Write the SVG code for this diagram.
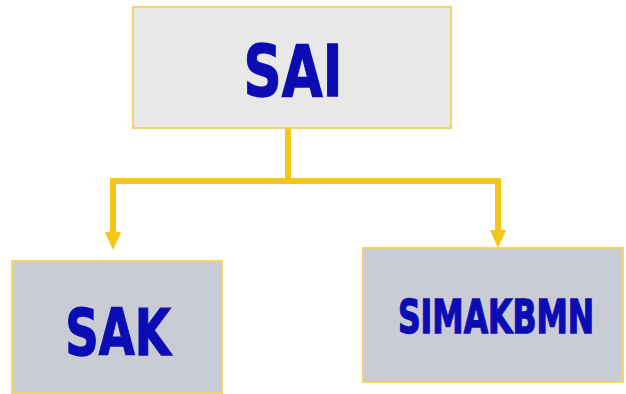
<svg xmlns="http://www.w3.org/2000/svg" width="626" height="394" viewBox="0 0 626 394">
<style>
.box{stroke:#f2d56a;stroke-width:2}
.top{fill:#e8e8e8}
.sub{fill:#c9ccd4}
.lbl{font-family:"DejaVu Sans","Liberation Sans",sans-serif;font-weight:bold;fill:#0c0cb4;stroke:#0c0cb4;stroke-width:1;text-anchor:middle}
.con{fill:none;stroke:#f5c518;stroke-width:6;stroke-linejoin:miter}
</style>
<defs>
<marker id="ah" markerUnits="userSpaceOnUse" markerWidth="18" markerHeight="22" refX="0" refY="9" orient="auto" viewBox="0 0 20 18">
<path d="M0,0 L20,9 L0,18 Z" fill="#f5c518"/>
</marker>
</defs>
<rect width="626" height="394" fill="#ffffff"/>
<g id="connectors">
<path class="con" d="M288,128 V181 H113 V232" marker-end="url(#ah)"/>
<path class="con" d="M288,181 H498 V230" marker-end="url(#ah)"/>
</g>
<g id="sai">
<rect class="box top" x="133" y="7" width="318" height="121"/>
<text class="lbl" transform="translate(293,96) scale(1,1.34)" font-size="53">SAI</text>
</g>
<g id="sak">
<rect class="box sub" x="12" y="261" width="210" height="132"/>
<text class="lbl" transform="translate(118,355) scale(1,1.38)" font-size="46.5">SAK</text>
</g>
<g id="simakbmn">
<rect class="box sub" x="363" y="248" width="260" height="134"/>
<text class="lbl" transform="translate(496,333) scale(1,1.45)" font-size="31.5">SIMAKBMN</text>
</g>
</svg>
